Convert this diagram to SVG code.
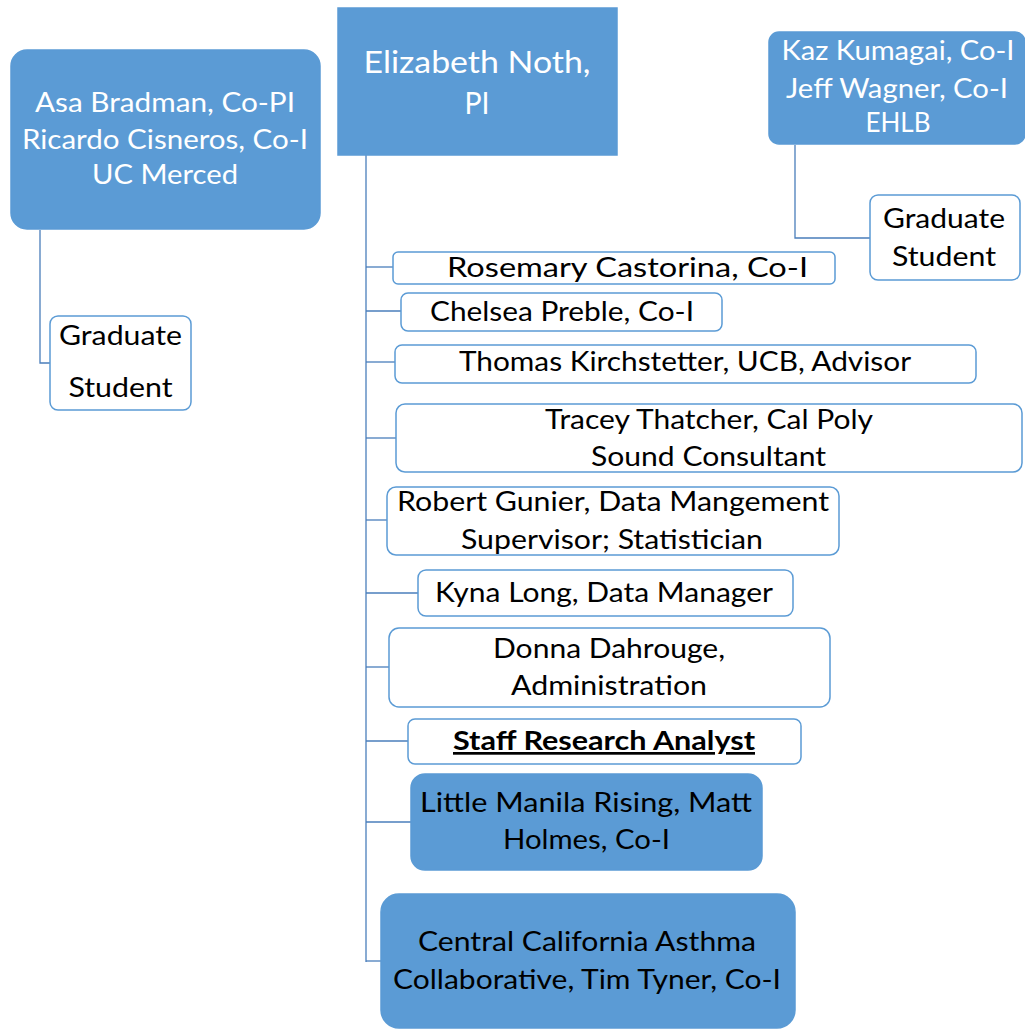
<svg xmlns="http://www.w3.org/2000/svg" width="1025" height="1030" viewBox="0 0 1025 1030">
<style>
.blue{fill:#5B9BD5;stroke:#5B9BD5;stroke-width:1.5}
.white{fill:#FFFFFF;stroke:#5B9BD5;stroke-width:1.5}
.conn{fill:none;stroke:#4A7EBB;stroke-width:1.3}
text{font-family:Lato,"Open Sans","Liberation Sans",sans-serif;font-size:27px;text-anchor:middle}
.wt{fill:#FFFFFF}
.bk{fill:#000000}
.big{font-size:31px}
.bold{font-weight:bold;text-decoration:underline}
</style>
<rect width="1025" height="1030" fill="#FFFFFF"/>
<g id="connectors">
<polyline class="conn" points="40,230 40,363 50,363"/>
<polyline class="conn" points="795,145 795,238 870,238"/>
<line class="conn" x1="366" y1="155" x2="366" y2="962"/>
<line class="conn" x1="366" y1="267" x2="393" y2="267"/>
<line class="conn" x1="366" y1="311" x2="401" y2="311"/>
<line class="conn" x1="366" y1="362" x2="395" y2="362"/>
<line class="conn" x1="366" y1="438" x2="396" y2="438"/>
<line class="conn" x1="366" y1="520" x2="387" y2="520"/>
<line class="conn" x1="366" y1="593" x2="418" y2="593"/>
<line class="conn" x1="366" y1="667" x2="389" y2="667"/>
<line class="conn" x1="366" y1="741" x2="408" y2="741"/>
<line class="conn" x1="366" y1="822" x2="411" y2="822"/>
<line class="conn" x1="366" y1="961" x2="381" y2="961"/>
</g>
<g id="node-bradman">
<rect class="blue" x="11" y="50" width="309" height="179" rx="16"/>
<text class="wt" x="165" y="112" textLength="260" lengthAdjust="spacingAndGlyphs">Asa Bradman, Co-PI</text>
<text class="wt" x="165" y="149" textLength="286" lengthAdjust="spacingAndGlyphs">Ricardo Cisneros, Co-I</text>
<text class="wt" x="165" y="184" textLength="146" lengthAdjust="spacingAndGlyphs">UC Merced</text>
</g>
<g id="node-grad-left">
<rect class="white" x="50" y="316" width="141" height="94" rx="8"/>
<text class="bk" x="120.5" y="345" textLength="123" lengthAdjust="spacingAndGlyphs">Graduate</text>
<text class="bk" x="120.5" y="397" textLength="104" lengthAdjust="spacingAndGlyphs">Student</text>
</g>
<g id="node-noth">
<rect class="blue" x="338" y="8" width="279" height="147"/>
<text class="wt big" x="477" y="73" textLength="227" lengthAdjust="spacingAndGlyphs">Elizabeth Noth,</text>
<text class="wt big" x="477" y="114" textLength="25" lengthAdjust="spacingAndGlyphs">PI</text>
</g>
<g id="node-kumagai">
<rect class="blue" x="769" y="32" width="256" height="112" rx="10"/>
<text class="wt" x="898" y="60" textLength="233" lengthAdjust="spacingAndGlyphs">Kaz Kumagai, Co-I</text>
<text class="wt" x="897" y="98" textLength="222" lengthAdjust="spacingAndGlyphs">Jeff Wagner, Co-I</text>
<text class="wt" x="898" y="132" textLength="65" lengthAdjust="spacingAndGlyphs">EHLB</text>
</g>
<g id="node-grad-right">
<rect class="white" x="870" y="195" width="150" height="85" rx="8"/>
<text class="bk" x="944" y="228" textLength="122" lengthAdjust="spacingAndGlyphs">Graduate</text>
<text class="bk" x="944" y="266" textLength="104" lengthAdjust="spacingAndGlyphs">Student</text>
</g>
<g id="node-castorina">
<rect class="white" x="393" y="252" width="442" height="32" rx="5"/>
<text class="bk" x="627.5" y="277" textLength="361" lengthAdjust="spacingAndGlyphs">Rosemary Castorina, Co-I</text>
</g>
<g id="node-preble">
<rect class="white" x="401" y="293" width="321" height="38" rx="7"/>
<text class="bk" x="562" y="321" textLength="264" lengthAdjust="spacingAndGlyphs">Chelsea Preble, Co-I</text>
</g>
<g id="node-kirchstetter">
<rect class="white" x="395" y="345" width="581" height="38" rx="7"/>
<text class="bk" x="685" y="371" textLength="452" lengthAdjust="spacingAndGlyphs">Thomas Kirchstetter, UCB, Advisor</text>
</g>
<g id="node-thatcher">
<rect class="white" x="396" y="404" width="626" height="68" rx="9"/>
<text class="bk" x="709" y="429" textLength="328" lengthAdjust="spacingAndGlyphs">Tracey Thatcher, Cal Poly</text>
<text class="bk" x="708.5" y="466" textLength="235" lengthAdjust="spacingAndGlyphs">Sound Consultant</text>
</g>
<g id="node-gunier">
<rect class="white" x="387" y="487" width="452" height="68" rx="9"/>
<text class="bk" x="613" y="511" textLength="432" lengthAdjust="spacingAndGlyphs">Robert Gunier, Data Mangement</text>
<text class="bk" x="612" y="549" textLength="302" lengthAdjust="spacingAndGlyphs">Supervisor; Statistician</text>
</g>
<g id="node-long">
<rect class="white" x="418" y="570" width="375" height="46" rx="8"/>
<text class="bk" x="604" y="602" textLength="338" lengthAdjust="spacingAndGlyphs">Kyna Long, Data Manager</text>
</g>
<g id="node-dahrouge">
<rect class="white" x="389" y="628" width="441" height="79" rx="10"/>
<text class="bk" x="609" y="658" textLength="232" lengthAdjust="spacingAndGlyphs">Donna Dahrouge,</text>
<text class="bk" x="609" y="695" textLength="196" lengthAdjust="spacingAndGlyphs">Administration</text>
</g>
<g id="node-sra">
<rect class="white" x="408" y="719" width="393" height="45" rx="7"/>
<text class="bk bold" x="604" y="750" textLength="302" lengthAdjust="spacingAndGlyphs">Staff Research Analyst</text>
</g>
<g id="node-holmes">
<rect class="blue" x="411" y="774" width="351" height="96" rx="14"/>
<text class="bk" x="586" y="812" textLength="332" lengthAdjust="spacingAndGlyphs">Little Manila Rising, Matt</text>
<text class="bk" x="586.5" y="849" textLength="167" lengthAdjust="spacingAndGlyphs">Holmes, Co-I</text>
</g>
<g id="node-tyner">
<rect class="blue" x="381" y="894" width="414" height="134" rx="18"/>
<text class="bk" x="587" y="951" textLength="338" lengthAdjust="spacingAndGlyphs">Central California Asthma</text>
<text class="bk" x="587" y="989" textLength="388" lengthAdjust="spacingAndGlyphs">Collaborative, Tim Tyner, Co-I</text>
</g>
</svg>
